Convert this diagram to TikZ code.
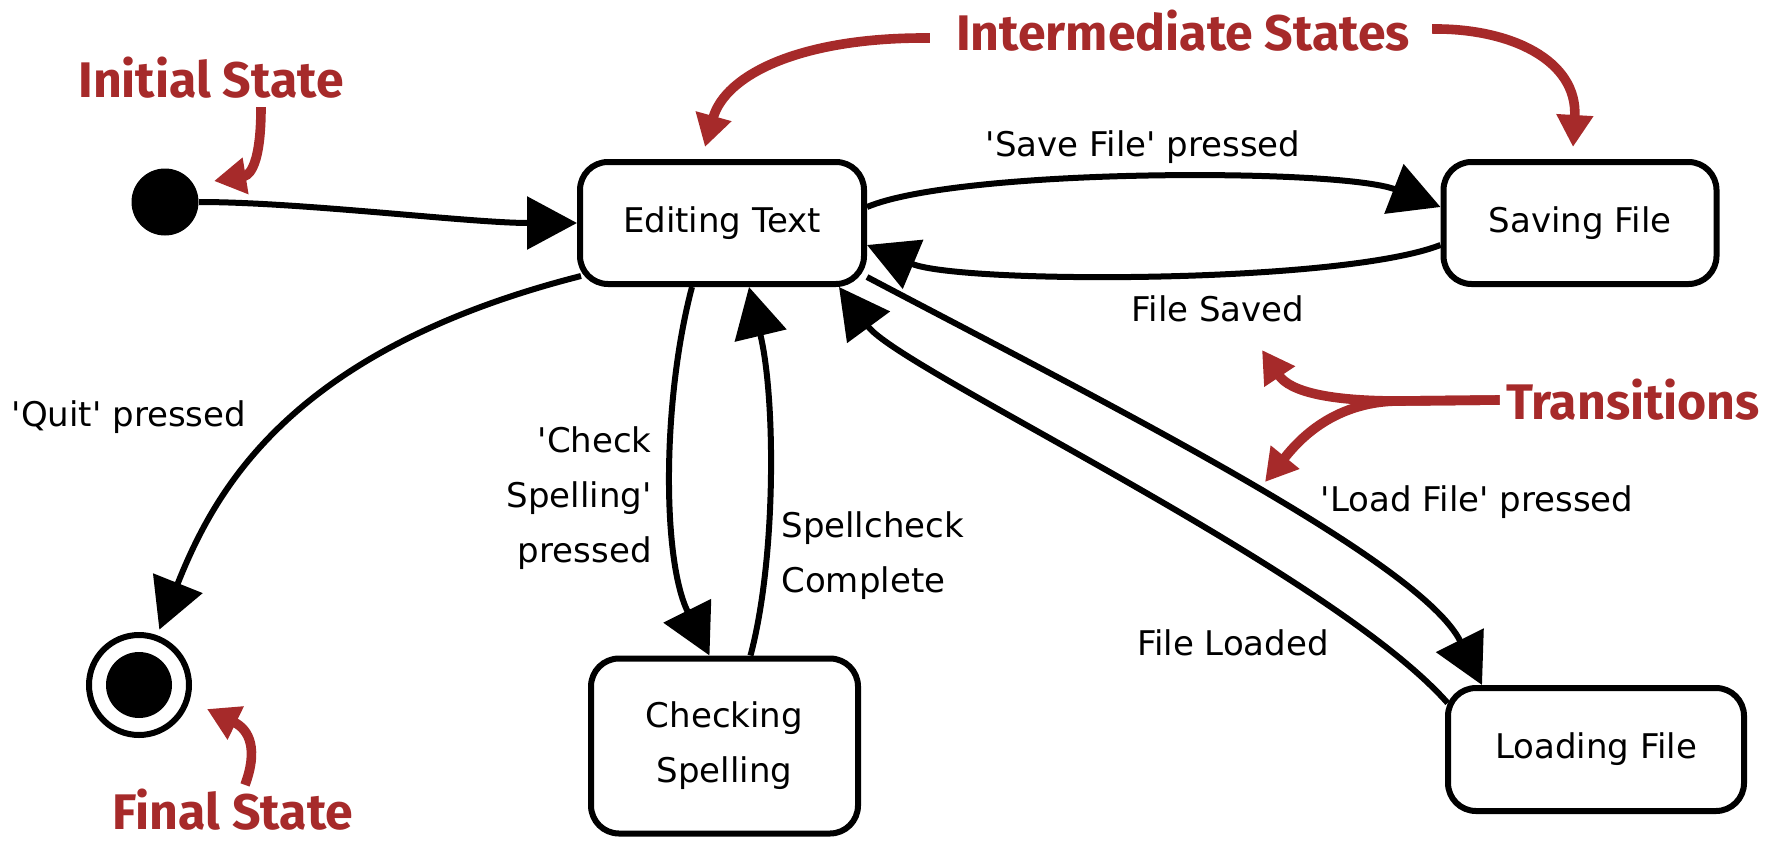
\documentclass[tikz,border=0pt]{standalone}
\usepackage{fontspec}
\newfontfamily\lblfont{DejaVu Sans}
\newfontfamily\notefont{Fira Sans}
\usetikzlibrary{arrows.meta,calc}
\definecolor{notered}{RGB}{166,42,42}

\begin{document}
\begin{tikzpicture}[x=0.5pt,y=-0.5pt,
  lbl/.style={font=\lblfont\fontsize{17pt}{27.5pt}\selectfont, inner sep=0pt},
  stbox/.style={draw, line width=3pt, rounded corners=14pt,
    font=\lblfont\fontsize{17pt}{27.5pt}\selectfont, align=center, inner sep=0pt},
  trans/.style={line width=3pt, -{Triangle[length=25pt,width=26pt]}},
  note/.style={text=notered, font=\notefont\bfseries\fontsize{25pt}{30pt}\selectfont, inner sep=0pt},
  notearrow/.style={draw=notered, line width=4.8pt, -{Triangle[length=16pt,width=17.5pt]}}
]
\useasboundingbox (0,0) rectangle (1781,840);

% states
\node[circle, fill, minimum size=33.5pt, inner sep=0pt] (init) at (165,202) {};
\node[circle, draw, line width=3pt, minimum size=50pt, inner sep=0pt] (final) at (139,685) {};
\node[circle, fill, minimum size=33pt, inner sep=0pt] (finaldot) at (final) {};
\node[stbox, minimum width=142pt, minimum height=61pt] (edit) at (722,223) {Editing Text};
\node[stbox, minimum width=136.5pt, minimum height=61pt] (save) at (1580,223) {Saving File};
\node[stbox, minimum width=133.5pt, minimum height=87.5pt] (check) at (724.5,746) {Checking\\Spelling};
\node[stbox, minimum width=148pt, minimum height=61.5pt] (load) at (1596,749.5) {Loading File};

% transitions
\draw[trans] (init.east) .. controls (300,202) and (470,223) .. (edit.west);
\draw[trans] ([yshift=8pt]edit.east) .. controls (960,168) and (1340,168) .. ([yshift=8pt]save.west);
\draw[trans] ([yshift=-11pt]save.west) .. controls (1340,284) and (960,284) .. ([yshift=-11pt]edit.east);
\draw[trans, shorten >=3pt] ([xshift=2pt,yshift=-26.5pt]edit.west) .. controls (290,350) and (215,490) .. (final.70);
\draw[trans] ([xshift=-15pt]edit.south) .. controls (662,400) and (662,560) .. ([xshift=-7.5pt]check.north);
\draw[trans] ([xshift=13pt]check.north) .. controls (776,560) and (776,400) .. ([xshift=13.5pt]edit.south);
\draw[trans] ([yshift=-27pt]edit.east) .. controls (1100,400) and (1420,560) .. ([xshift=-57pt]load.north);
\draw[trans] ([xshift=1.3pt,yshift=-9pt]load.north west) .. controls (1330,570) and (900,370) .. ([xshift=-14pt]edit.south east);

% transition labels
\node[lbl] (lsave) at (1143,147) {'Save File' pressed};
\node[lbl] (lsaved) at (1218,309) {File Saved};
\node[lbl] (lquit) at (129,417) {'Quit' pressed};
\node[lbl, align=right, anchor=east] (lcheck) at (652,498) {'Check\\Spelling'\\pressed};
\node[lbl, align=left, anchor=west] (lcomplete) at (781,556) {Spellcheck\\Complete};
\node[lbl] (lload) at (1477,502) {'Load File' pressed};
\node[lbl] (lloaded) at (1233,643) {File Loaded};

% annotations
\node[note] (ninit) at (211,78) {Initial State};
\node[note] (ninter) at (1183,31) {Intermediate States};
\node[note] (ntrans) at (1633,400) {Transitions};
\node[note] (nfinal) at (233,810) {Final State};

\coordinate (tinit) at (214,181);
\coordinate (tinterA) at (705,147);
\coordinate (tinterB) at (1573,147);
\coordinate (tfork) at (1400,401);
\coordinate (ttransA) at (1262,350);
\coordinate (ttransB) at (1265,482);
\coordinate (tfinal) at (207,709);

\draw[notearrow] ([xshift=25pt,yshift=-4pt]ninit.south) .. controls (261,175) and (245,176) .. (tinit);
\draw[notearrow] ([xshift=-13pt,yshift=-3.5pt]ninter.west) .. controls (800,37) and (725,75) .. (tinterA);
\draw[notearrow] ([xshift=11pt,yshift=1pt]ninter.east) .. controls (1510,28) and (1578,60) .. (tinterB);
\draw[notearrow] ([xshift=-3pt]ntrans.west) -- (tfork) .. controls (1330,401) and (1290,392) .. (ttransA);
\draw[notearrow] ([xshift=-3pt]ntrans.west) -- (tfork) .. controls (1330,401) and (1295,445) .. (ttransB);
\draw[notearrow] ([xshift=6pt,yshift=2pt]nfinal.north) .. controls (258,750) and (250,730) .. (tfinal);
\end{tikzpicture}
\end{document}
